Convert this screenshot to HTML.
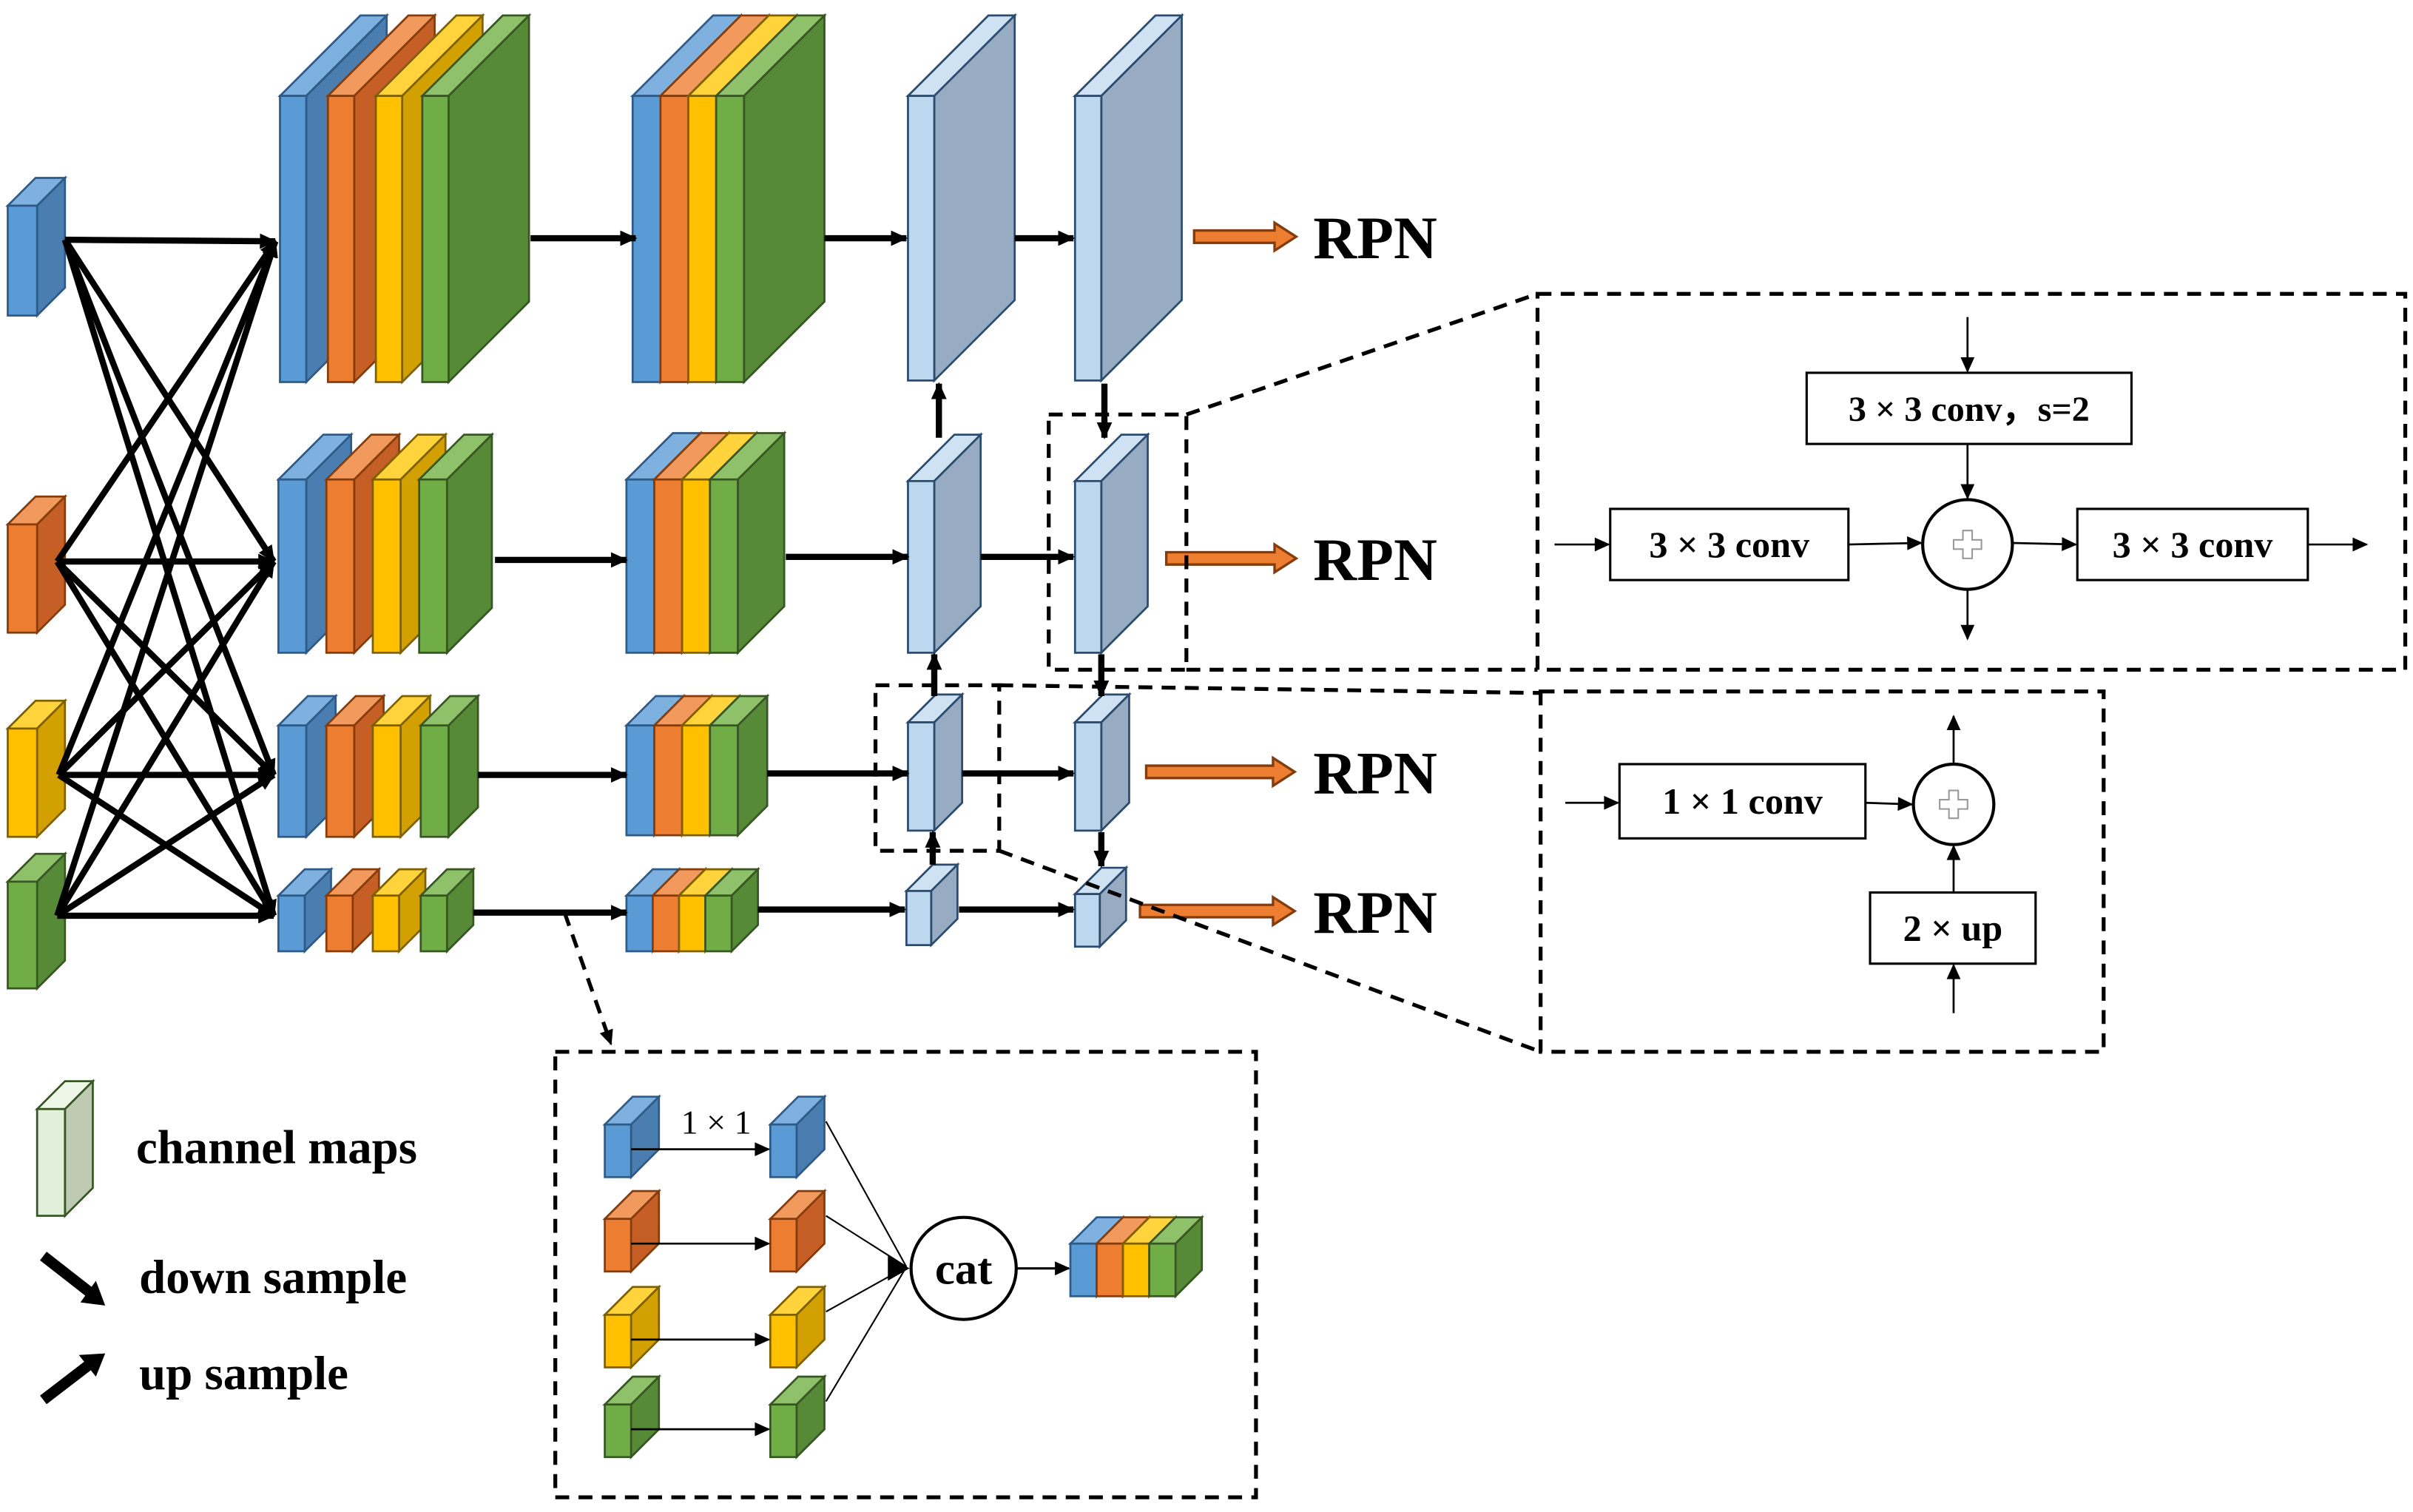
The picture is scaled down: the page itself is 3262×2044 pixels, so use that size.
<!DOCTYPE html>
<html><head><meta charset="utf-8"><style>html,body{margin:0;padding:0;background:#fff}svg{display:block}</style></head>
<body>
<svg id="s" xmlns="http://www.w3.org/2000/svg" width="3262" height="2044" viewBox="0 0 1560 977.5" preserveAspectRatio="none" font-family="'Liberation Serif',serif">
<defs>
<marker id="a" markerUnits="userSpaceOnUse" markerWidth="12" markerHeight="12" refX="10" refY="6" orient="auto"><path d="M0,1 L11,6 L0,11 Z" fill="#000"/></marker>
<marker id="b" markerUnits="userSpaceOnUse" markerWidth="12" markerHeight="12" refX="10" refY="6" orient="auto"><path d="M1,1.5 L11,6 L1,10.5 Z" fill="#000"/></marker>
</defs>
<g id="g"></g>
</svg>
<script>
var C={b:['#5b9bd5','#4a7eb0','#7fb1e0','#2e5a88'],o:['#ed7d31','#c55f26','#f29a5e','#843c0c'],y:['#ffc000','#d2a000','#ffd33c','#7f6000'],g:['#70ad47','#578a37','#8fc06a','#375623'],l:['#bdd7ee','#97abc2','#cfe2f3','#2a4a6e'],c:['#e2efda','#bfcab3','#eef6e8','#375623']};
var h='';
function box(x,y,w,hh,d,k,sw){var c=C[k];sw=sw||1.3;
h+='<polygon points="'+x+','+y+' '+(x+d)+','+(y-d)+' '+(x+w+d)+','+(y-d)+' '+(x+w)+','+y+'" fill="'+c[2]+'" stroke="'+c[3]+'" stroke-width="'+sw+'"/>';
h+='<polygon points="'+(x+w)+','+y+' '+(x+w+d)+','+(y-d)+' '+(x+w+d)+','+(y+hh-d)+' '+(x+w)+','+(y+hh)+'" fill="'+c[1]+'" stroke="'+c[3]+'" stroke-width="'+sw+'"/>';
h+='<rect x="'+x+'" y="'+y+'" width="'+w+'" height="'+hh+'" fill="'+c[0]+'" stroke="'+c[3]+'" stroke-width="'+sw+'"/>';}
function stack(xs,w,y,hh,d){var k='boyg';for(var i=0;i<4;i++)box(xs[i],y,w,hh,d,k[i]);}
function ln(x1,y1,x2,y2,sw,m,dash){h+='<line x1="'+x1+'" y1="'+y1+'" x2="'+x2+'" y2="'+y2+'" stroke="#000" stroke-width="'+sw+'"'+(m?' marker-end="url(#'+m+')"':'')+(dash?' stroke-dasharray="'+dash+'"':'')+'/>';}
box(5,133,19,71,18,'b');box(5,339,19,70,18,'o');box(5,471,19,70,18,'y');box(5,570,19,69,18,'g');
var S=[[42,155],[37,363],[38,501],[37,592]],T=[[178,156],[177,363],[177,501],[177,592]];
for(var i=0;i<4;i++)for(var j=0;j<4;j++)ln(S[i][0],S[i][1],T[j][0],T[j][1],4,'a');
stack([181,212,243,273],17,62,185,52);
stack([409,427,445,463],18,62,185,52);
box(587,62,17,184,52,'l');box(695,62,17,184,52,'l');
stack([180,211,241,271],18,310,112,29);
stack([405,423,441,459],18,310,112,30);
box(587,311,17,111,30,'l');box(695,311,17,111,30,'l');
stack([180,211,241,272],18,469,72,19);
stack([405,423,441,459],18,469,71,19);
box(587,467,17,70,18,'l');box(695,467,17,70,18,'l');
stack([180,211,241,272],17,579,36,17);
stack([405,422,439,456],17,579,36,17);
box(586,576,16,35,17,'l');box(695,578,16,34,17,'l');
[[343,411,154],[533,586,154],[656,694,154],[320,405,362],[508,587,360],[634,694,360],[309,405,501],[496,587,500],[622,694,500],[306,405,590],[490,585,588],[620,694,588]].forEach(function(a){ln(a[0],a[2],a[1],a[2],4,'a');});
ln(607,283,607,248,4,'a');ln(714,248,714,283,4,'a');
ln(604,450,604,423,4,'a');ln(712,423,712,450,4,'a');
ln(603,559,603,538,4,'a');ln(712,538,712,560,4,'a');
function rpn(x1,x2,y){h+='<polygon points="'+x1+','+(y-4)+' '+(x2-14)+','+(y-4)+' '+(x2-14)+','+(y-9)+' '+x2+','+y+' '+(x2-14)+','+(y+9)+' '+(x2-14)+','+(y+4)+' '+x1+','+(y+4)+'" fill="#ed7d31" stroke="#843c0c" stroke-width="1.6"/>';
h+='<text x="849" y="'+(y+14)+'" font-size="39" font-weight="bold">RPN</text>';}
rpn(772,838,153);rpn(754,838,361);rpn(741,837,499);rpn(737,837,589);
var D='9 6';
function dr(x,y,w,hh){h+='<rect x="'+x+'" y="'+y+'" width="'+w+'" height="'+hh+'" fill="none" stroke="#000" stroke-width="2.5" stroke-dasharray="'+D+'"/>';}
dr(678,268,89,165);dr(566,443,80,107);
dr(994,190,561,243);dr(996,447,364,233);dr(359,680,453,288);
ln(767,268,994,190,2.5,null,D);ln(767,433,994,433,2.5,null,D);
ln(646,443,996,448,2.5,null,D);ln(646,550,996,680,2.5,null,D);
ln(365,590,395,675,2.5,'b',D);
function tb(x,y,w,hh,t,fs){h+='<rect x="'+x+'" y="'+y+'" width="'+w+'" height="'+hh+'" fill="#fff" stroke="#000" stroke-width="1.5"/><text x="'+(x+w/2)+'" y="'+(y+hh/2+8)+'" font-size="'+(fs||24)+'" font-weight="bold" text-anchor="middle">'+t+'</text>';}
tb(1168,241,210,46,'3 × 3 conv，s=2',23);tb(1041,329,154,46,'3 × 3 conv');tb(1343,329,149,46,'3 × 3 conv');
function circ(cx,cy,r){h+='<ellipse cx="'+cx+'" cy="'+cy+'" rx="'+r+'" ry="'+r+'" fill="#fff" stroke="#000" stroke-width="2"/><path d="M'+(cx-3)+','+(cy-9)+'h6v6h6v6h-6v6h-6v-6h-6v-6h6z" fill="none" stroke="#999" stroke-width="1"/>';}
circ(1272,352,29);
ln(1272,205,1272,240,1.3,'b');ln(1272,287,1272,322,1.3,'b');ln(1005,352,1040,352,1.3,'b');
ln(1195,352,1242,351,1.3,'b');ln(1301,351,1342,352,1.3,'b');ln(1492,352,1530,352,1.3,'b');ln(1272,381,1272,413,1.3,'b');
tb(1047,494,159,48,'1 × 1 conv');tb(1209,577,107,46,'2 × up');
circ(1263,520,26);
ln(1012,519,1046,519,1.3,'b');ln(1206,519,1236,520,1.3,'b');ln(1263,494,1263,463,1.3,'b');ln(1263,577,1263,547,1.3,'b');ln(1263,655,1263,624,1.3,'b');
var ys=[727,788,850,908],ks='boyg';
for(var i=0;i<4;i++){box(391,ys[i],17,34,18,ks[i]);box(498,ys[i],17,34,18,ks[i]);ln(408,ys[i]+16,497,ys[i]+16,1.3,'b');ln(534,ys[i]-2,586,819,1);}
h+='<polygon points="574,812 588,820 574,828" fill="#000"/>';
h+='<text x="463" y="733" font-size="22" text-anchor="middle">1 × 1</text>';
h+='<ellipse cx="623" cy="820" rx="34" ry="33" fill="#fff" stroke="#000" stroke-width="2"/><text x="623" y="830" font-size="29" font-weight="bold" text-anchor="middle">cat</text>';
ln(657,820,691,820,1.5,'b');
stack([692,709,726,743],17,804,34,17);
box(24,717,18,69,18,'c');
h+='<text x="88" y="752" font-size="31" font-weight="bold">channel maps</text>';
h+='<line x1="28" y1="812" x2="60" y2="837" stroke="#000" stroke-width="7"/><polygon points="52,842 68,844 62,828" fill="#000"/>';
h+='<text x="90" y="836" font-size="31" font-weight="bold">down sample</text>';
h+='<line x1="28" y1="905" x2="58" y2="882" stroke="#000" stroke-width="7"/><polygon points="51,876 68,875 62,890" fill="#000"/>';
h+='<text x="90" y="898" font-size="31" font-weight="bold">up sample</text>';
document.getElementById('g').innerHTML=h;
</script>
</body></html>
